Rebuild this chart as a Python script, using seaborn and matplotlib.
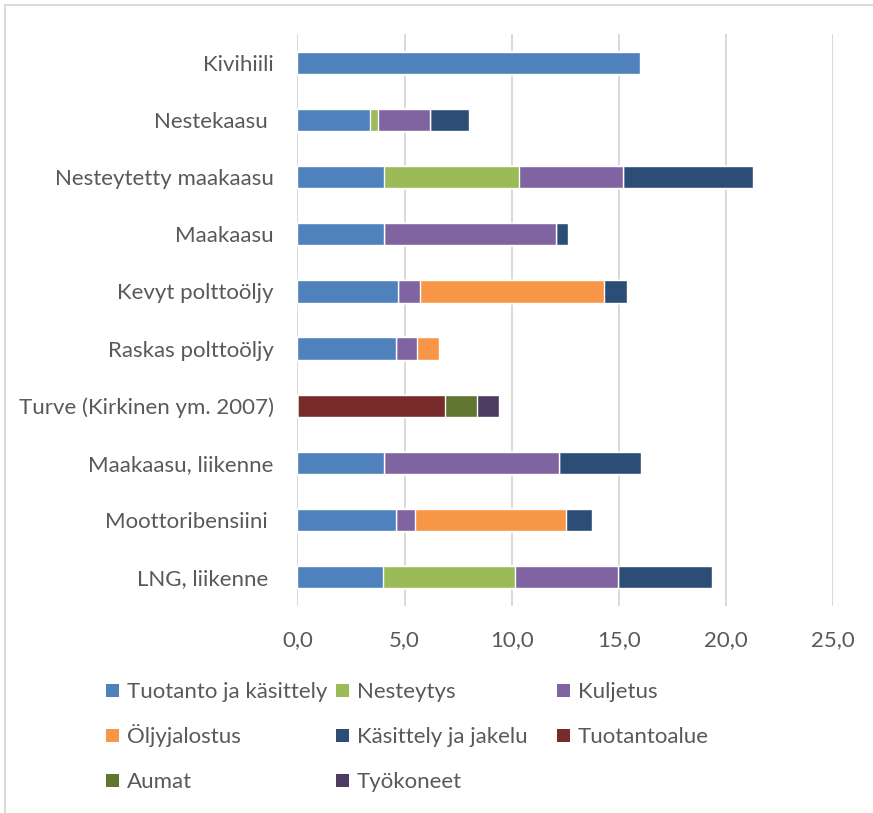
import matplotlib
matplotlib.use("Agg")
import matplotlib.pyplot as plt
import seaborn as sns
import pandas as pd
import numpy as np
from matplotlib.patches import Rectangle
from matplotlib.lines import Line2D

# Fuel chains (top to bottom)
categories = [
    "Kivihiili",
    "Nestekaasu ",
    "Nesteytetty maakaasu",
    "Maakaasu",
    "Kevyt polttoöljy",
    "Raskas polttoöljy",
    "Turve (Kirkinen ym. 2007)",
    "Maakaasu, liikenne",
    "Moottoribensiini ",
    "LNG, liikenne ",
]

# Emission components per chain stage
tuotanto_ja_kasittely = [16.0, 3.4, 4.05, 4.05, 4.7, 4.6, 0.0, 4.05, 4.6, 4.0]
nesteytys             = [0.0, 0.35, 6.3, 0.0, 0.0, 0.0, 0.0, 0.0, 0.0, 6.15]
kuljetus              = [0.0, 2.45, 4.85, 8.0, 1.0, 1.0, 0.0, 8.15, 0.9, 4.8]
oljyjalostus          = [0.0, 0.0, 0.0, 0.0, 8.6, 1.0, 0.0, 0.0, 7.05, 0.0]
kasittely_ja_jakelu   = [0.0, 1.8, 6.05, 0.6, 1.1, 0.0, 0.0, 3.85, 1.2, 4.4]
tuotantoalue          = [0.0, 0.0, 0.0, 0.0, 0.0, 0.0, 6.9, 0.0, 0.0, 0.0]
aumat                 = [0.0, 0.0, 0.0, 0.0, 0.0, 0.0, 1.5, 0.0, 0.0, 0.0]
tyokoneet             = [0.0, 0.0, 0.0, 0.0, 0.0, 0.0, 1.0, 0.0, 0.0, 0.0]

series_names = [
    "Tuotanto ja käsittely", "Nesteytys", "Kuljetus", "Öljyjalostus",
    "Käsittely ja jakelu", "Tuotantoalue", "Aumat", "Työkoneet",
]
series_values = [
    tuotanto_ja_kasittely, nesteytys, kuljetus, oljyjalostus,
    kasittely_ja_jakelu, tuotantoalue, aumat, tyokoneet,
]
colors = ["#4F81BD", "#9BBB59", "#8064A2", "#F79646",
          "#2C4D75", "#772C2A", "#5F7530", "#4D3B62"]

x_ticks = [0, 5, 10, 15, 20, 25]
x_tick_labels = ["0,0", "5,0", "10,0", "15,0", "20,0", "25,0"]

sns.set_style("white")
plt.rcParams["font.family"] = ["Lato", "DejaVu Sans"]
text_color = "#595959"
grid_color = "#D9D9D9"
fs = 16

W, H = 873, 813
fig = plt.figure(figsize=(W / 100, H / 100), dpi=100)
ax = fig.add_axes([0.3407, 0.2552, 0.6135, 0.7024])

df = pd.DataFrame({"kategoria": categories})
cum = np.cumsum(np.array(series_values), axis=0)

# Stacked bars: draw cumulative totals from the outermost stage inward
for i in range(len(series_names) - 1, -1, -1):
    df["arvo"] = cum[i]
    sns.barplot(data=df, x="arvo", y="kategoria", orient="h",
                color=colors[i], saturation=1, width=0.39,
                order=categories, ax=ax, zorder=3)

ax.set_xlim(0, 25)
ax.set_ylim(len(categories) - 0.5, -0.5)
ax.set_xticks(x_ticks)
ax.set_xticklabels(x_tick_labels)
ax.set_xlabel("")
ax.set_ylabel("")
for s in ax.spines.values():
    s.set_visible(False)
for xv in x_ticks:
    ax.axvline(xv, color=grid_color, lw=1.4, zorder=1)
ax.tick_params(axis="x", length=0, pad=18, labelsize=fs, labelcolor=text_color)
ax.tick_params(axis="y", length=0, pad=17, labelsize=fs, labelcolor=text_color)

# Chart frame edges
fig.add_artist(Line2D([5 / W, 5 / W], [0, 1 - 5 / H], color=grid_color,
                      lw=1.4, transform=fig.transFigure))
fig.add_artist(Line2D([5 / W, 1], [1 - 5 / H, 1 - 5 / H], color=grid_color,
                      lw=1.4, transform=fig.transFigure))

# Legend: three columns, entries running row by row
col_x = [106, 336, 557]
row_y = [690, 735, 780]
sw = 13
for k, (name, col) in enumerate(zip(series_names, colors)):
    cx = col_x[k % 3]
    cy = row_y[k // 3]
    fig.add_artist(Rectangle(((cx) / W, 1 - (cy + sw / 2) / H), sw / W, sw / H,
                             facecolor=col, edgecolor="none",
                             transform=fig.transFigure))
    fig.text((cx + sw + 8) / W, 1 - (cy + 8) / H, name, fontsize=fs,
             color=text_color, ha="left", va="baseline")

fig.savefig("out.png", dpi=100, facecolor="white")
